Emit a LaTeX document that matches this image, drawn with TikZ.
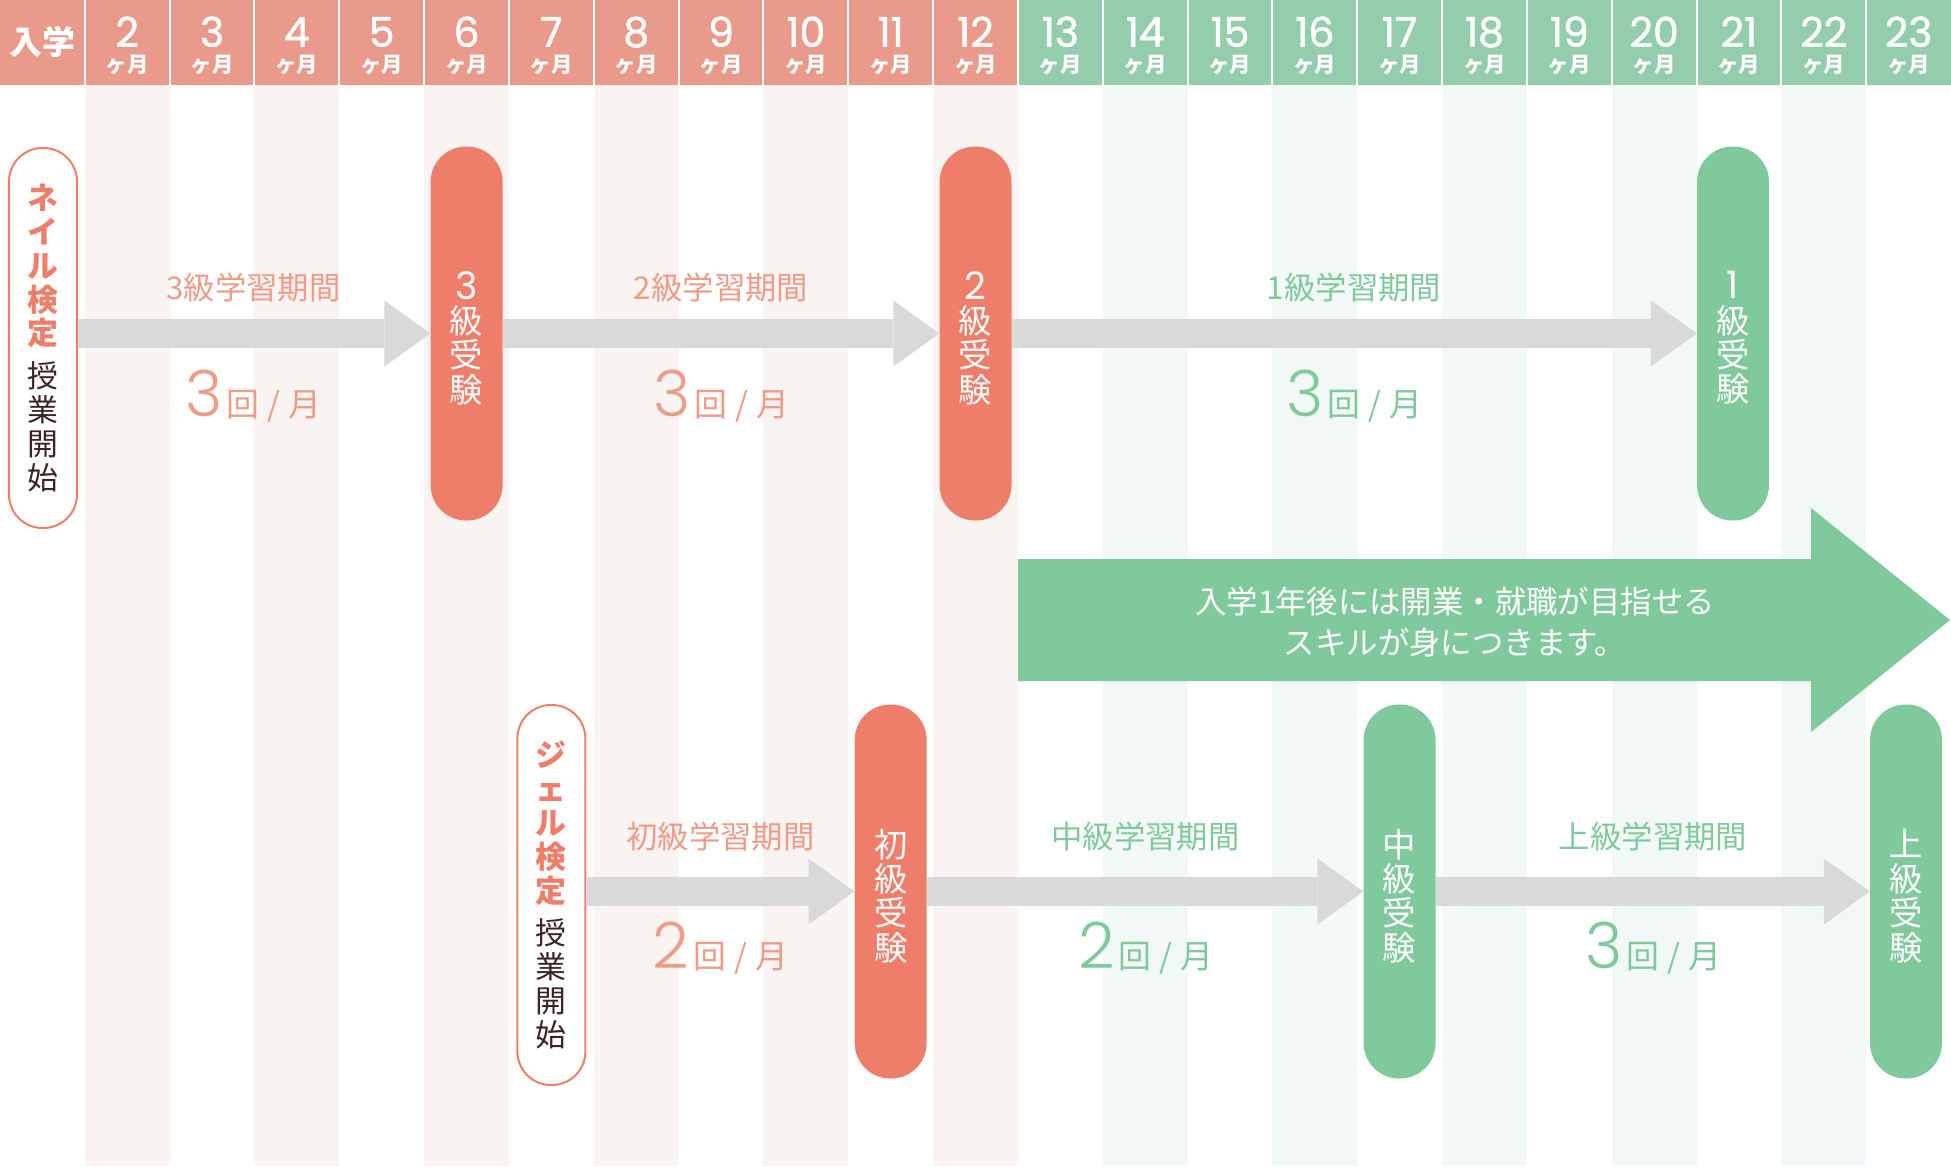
\documentclass[tikz,border=0pt]{standalone}
\usepackage{fontspec}
\setmainfont{Noto Sans CJK JP}
\newfontfamily\pop{Poppins}
\newfontfamily\popl{Poppins Light}
\newfontfamily\popm{Poppins}[FakeBold=1.3]
\usetikzlibrary{arrows.meta}
\definecolor{hpink}{HTML}{E99A8A}
\definecolor{hgreen}{HTML}{93CDAB}
\definecolor{ppink}{HTML}{EE7E69}
\definecolor{pgreen}{HTML}{80C99C}
\definecolor{lpink}{HTML}{EE9B88}
\definecolor{spink}{HTML}{F9F3F1}
\definecolor{sgreen}{HTML}{F2F8F5}
\definecolor{agrey}{HTML}{D9D9D9}
\definecolor{dbrown}{HTML}{3A2424}
\newcommand\nailpk[1]{\textcolor{ppink}{\bfseries #1}}
\newcommand\ratetext[1]{{\popl\fontsize{64}{64}\selectfont #1}\hspace{4bp}{\fontsize{33}{33}\selectfont 回\hspace{8bp}/\hspace{8bp}月}}
\newcommand\pilldigit[1]{{\pop\fontsize{38}{34.5}\selectfont #1}}
\begin{document}
\begin{tikzpicture}[x=1bp,y=-1bp,
  pillf/.style={rectangle, rounded corners=35.5bp, minimum width=72bp, minimum height=374bp, inner sep=0pt},
  pilltext/.style={inner sep=0pt, text=white, align=center, font=\fontsize{33.5}{34.5}\selectfont, yshift=-4.5bp},
  pillo/.style={rectangle, rounded corners=33.5bp, draw=ppink, line width=2bp, fill=white, minimum width=68bp, minimum height=380bp, inner sep=0pt, align=center, text=dbrown, font=\fontsize{31}{34}\selectfont},
  garrow/.style={draw=agrey, line width=29bp, -{Triangle[length=46bp,width=66bp,line width=0pt]}},
  plabel/.style={inner sep=0pt, font=\fontsize{31.5}{31.5}\selectfont},
  ratelabel/.style={inner sep=0pt, anchor=base},
  hnum/.style={inner sep=0pt, anchor=base, text depth=0pt, text height=29bp, text=white, font=\popm\fontsize{41}{41}\selectfont},
  hunit/.style={inner sep=0pt, text height=16bp, text depth=2bp, text=white, font=\bfseries\fontsize{21.5}{21.5}\selectfont},
]
\useasboundingbox (0,0) rectangle (1951,1166);
\fill[white] (0,0) rectangle (1951,1166);
% stripes
\foreach \i in {2,4,...,12} \fill[spink] ({(\i-1)*84.826},85) rectangle ({\i*84.826},1166);
\foreach \i in {14,16,...,22} \fill[sgreen] ({(\i-1)*84.826},85) rectangle ({\i*84.826},1166);
% header
\fill[hpink] (0,0) rectangle ({12*84.826},85);
\fill[hgreen] ({12*84.826},0) rectangle (1951,85);
\foreach \i in {1,...,22} \draw[white, line width=2bp] ({\i*84.826},0) -- ({\i*84.826},85);
\node[inner sep=0pt, text=white, font=\bfseries\fontsize{33}{33}\selectfont] (h1) at (42.4,41.5) {入学};
\foreach \i in {2,...,23} {
  \node[hnum] (m\i) at ({(\i-0.5)*84.826},46.7) {\i};
  \node[hunit] (k\i) at ({(\i-0.5)*84.826},65.5) {ヶ月};
}
% top row pills
\node[pillo] (n0) at (43,338) {\nailpk{ネ}\\\nailpk{イ}\\\nailpk{ル}\\\nailpk{検}\\\nailpk{定}\\[9bp]授\\業\\開\\始};
\node[pillf, fill=ppink] (e3) at (466.6,333.5) {};
\node[pilltext] (e3t) at (e3.center) {\pilldigit{3}\\級\\受\\験};
\node[pillf, fill=ppink] (e2) at (975.5,333.5) {};
\node[pilltext] (e2t) at (e2.center) {\pilldigit{2}\\級\\受\\験};
\node[pillf, fill=pgreen] (e1) at (1733,333.5) {};
\node[pilltext] (e1t) at (e1.center) {\pilldigit{1}\\級\\受\\験};
% bottom row pills
\node[pillo] (g0) at (551.4,895) {\nailpk{ジ}\\\nailpk{ェ}\\\nailpk{ル}\\\nailpk{検}\\\nailpk{定}\\[9bp]授\\業\\開\\始};
\node[pillf, fill=ppink] (eb) at (890.7,891.5) {};
\node[pilltext] (ebt) at (eb.center) {初\\級\\受\\験};
\node[pillf, fill=pgreen] (em) at (1399.6,891.5) {};
\node[pilltext] (emt) at (em.center) {中\\級\\受\\験};
\node[pillf, fill=pgreen] (eu) at (1906,891.5) {};
\node[pilltext] (eut) at (eu.center) {上\\級\\受\\験};
% grey arrows
\draw[garrow] (n0.east |- e3.west) -- (e3.west);
\draw[garrow] (e3.east) -- (e2.west);
\draw[garrow] (e2.east) -- (e1.west);
\draw[garrow] (g0.east |- eb.west) -- (eb.west);
\draw[garrow] (eb.east) -- (em.west);
\draw[garrow] (em.east) -- (eu.west);
% labels
\node[plabel, text=lpink] (l3) at (253.5,287.5) {3級学習期間};
\node[ratelabel, text=lpink] (f3) at (253.5,416) {\ratetext{3}};
\node[plabel, text=lpink] (l2) at (721,287.5) {2級学習期間};
\node[ratelabel, text=lpink] (f2) at (721,416) {\ratetext{3}};
\node[plabel, text=pgreen] (l1) at (1354,287.5) {1級学習期間};
\node[ratelabel, text=pgreen] (f1) at (1354,416) {\ratetext{3}};
\node[plabel, text=lpink] (lb) at (720.5,837) {初級学習期間};
\node[ratelabel, text=lpink] (fb) at (720.5,968) {\ratetext{2}};
\node[plabel, text=pgreen] (lm) at (1145.6,837) {中級学習期間};
\node[ratelabel, text=pgreen] (fm) at (1145.6,968) {\ratetext{2}};
\node[plabel, text=pgreen] (lu) at (1653,837) {上級学習期間};
\node[ratelabel, text=pgreen] (fu) at (1653,968) {\ratetext{3}};
% big green arrow
\fill[pgreen] (1018,559) -- (1811,559) -- (1811,508) -- (1950,620) -- (1811,732) -- (1811,681) -- (1018,681) -- cycle;
\node[inner sep=0pt, text=white, align=center, font=\fontsize{31.5}{42}\selectfont] (goal) at (1455,622) {入学1年後には開業・就職が目指せる\\スキルが身につきます。};
\end{tikzpicture}
\end{document}
